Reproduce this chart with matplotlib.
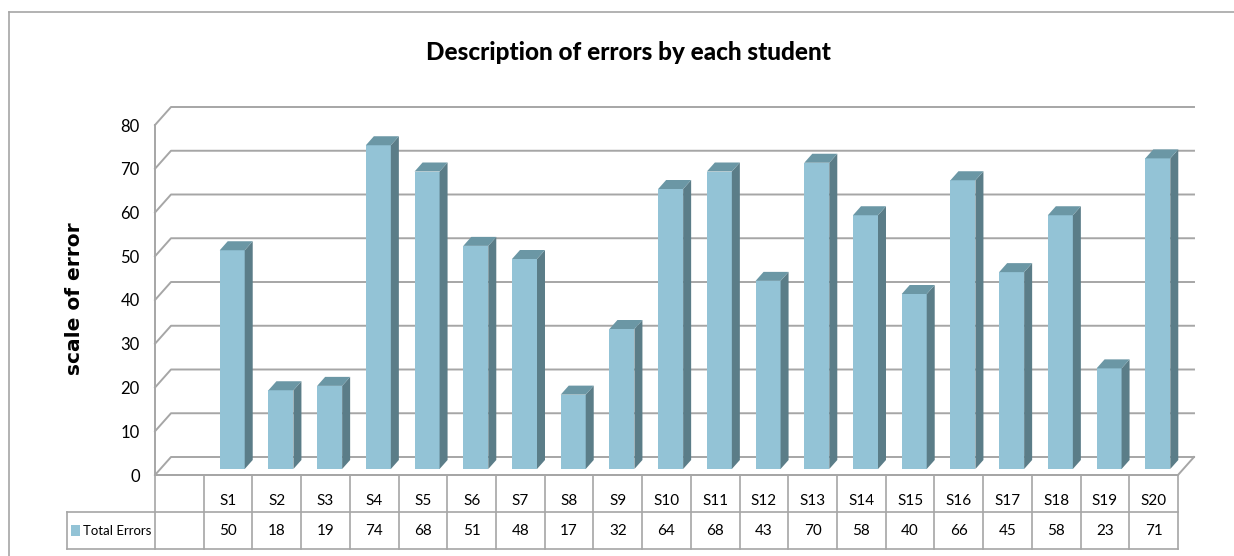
import matplotlib
matplotlib.use("Agg")
import matplotlib.pyplot as plt
from matplotlib.patches import Rectangle, Polygon
from matplotlib.lines import Line2D

students = ["S%d" % i for i in range(1, 21)]
total_errors = [50, 18, 19, 74, 68, 51, 48, 17, 32, 64, 68, 43, 70, 58, 40, 66, 45, 58, 23, 71]
y_ticks = [0, 10, 20, 30, 40, 50, 60, 70, 80]

W, H = 1234, 556
NARROW = ["Lato", "DejaVu Sans"]
FRONT = "#93c3d6"
SIDE = "#5b7d88"
TOP = "#6b97a5"
GRID = "#a6a6a6"


def main():
    fig = plt.figure(figsize=(W / 100, H / 100), dpi=100)
    ax = fig.add_axes([155 / W, (H - 475) / H, 1023 / W, 350 / H])
    ncol = len(students) + 1
    ax.set_xlim(0, ncol)
    ax.set_ylim(0, 80)

    px_x = 1023 / ncol
    px_y = 350 / 80
    dep_x, dep_y = 16 / px_x, 18 / px_y

    # walls / gridlines
    for v in y_ticks:
        ax.plot([0, dep_x, ncol + dep_x], [v, v + dep_y, v + dep_y],
                color=GRID, lw=1.4, clip_on=False, zorder=1)
    ax.plot([0, ncol, ncol + dep_x], [0, 0, dep_y], color=GRID, lw=1.4,
            clip_on=False, zorder=1)

    # 3d bars
    bw = 25 / px_x
    sx, sy = 8 / px_x, 9 / px_y
    base = 6 / px_y
    for i, v in enumerate(total_errors):
        left = i + 1 + 16 / px_x
        top = base + v
        ax.add_patch(Rectangle((left, base), bw, v, facecolor=FRONT,
                               edgecolor="none", zorder=3, clip_on=False))
        ax.add_patch(Polygon([(left + bw, base), (left + bw + sx, base + sy),
                              (left + bw + sx, top + sy), (left + bw, top)],
                             facecolor=SIDE, edgecolor="none", zorder=3, clip_on=False))
        ax.add_patch(Polygon([(left, top), (left + bw, top),
                              (left + bw + sx, top + sy), (left + sx, top + sy)],
                             facecolor=TOP, edgecolor="none", zorder=3, clip_on=False))

    for s in ["top", "right", "bottom"]:
        ax.spines[s].set_visible(False)
    ax.spines["left"].set_color(GRID)
    ax.spines["left"].set_linewidth(1.4)
    ax.set_yticks(y_ticks)
    ax.set_yticklabels([str(t) for t in y_ticks], family=NARROW, fontsize=12)
    ax.tick_params(axis="y", length=0, pad=11)
    ax.set_xticks([])

    # data table below the floor
    tr = ax.get_xaxis_transform()
    r1, r2 = -37 / 350, -74 / 350
    ax.plot([0, ncol], [0, 0], color=GRID, lw=1.2, transform=tr, clip_on=False)
    ax.plot([-88 / px_x, ncol], [r1, r1], color=GRID, lw=1.2, transform=tr, clip_on=False)
    ax.plot([-88 / px_x, ncol], [r2, r2], color=GRID, lw=1.2, transform=tr, clip_on=False)
    ax.plot([-88 / px_x, -88 / px_x], [r1, r2], color=GRID, lw=1.2, transform=tr, clip_on=False)
    for k in range(ncol + 1):
        ax.plot([k, k], [0, r2], color=GRID, lw=1.2, transform=tr, clip_on=False)
    for i, (s, v) in enumerate(zip(students, total_errors)):
        ax.text(i + 1.5, -26 / 350, s, ha="center", va="center", family=NARROW,
                fontsize=11, transform=tr)
        ax.text(i + 1.5, -56 / 350, str(v), ha="center", va="center", family=NARROW,
                fontsize=11, transform=tr)
    ax.add_patch(Rectangle((-84 / px_x, -61 / 350), 9 / px_x, 11 / 350, facecolor=FRONT,
                           edgecolor="none", transform=tr, clip_on=False))
    ax.text(-72 / px_x, -56 / 350, "Total Errors", ha="left", va="center",
            family=NARROW, fontsize=9.5, transform=tr)

    # titles
    fig.text(628 / W, 1 - 53 / H, "Description of errors by each student", ha="center",
             va="center", family=NARROW, fontsize=17.5, fontweight="black")
    fig.text(74 / W, 1 - 299 / H, "scale of error", ha="center", va="center",
             rotation=90, fontsize=14.5, fontweight="bold", family="DejaVu Sans")

    # chart border
    fig.add_artist(Line2D([9 / W, 1], [1 - 12 / H, 1 - 12 / H], color=GRID, lw=1.2))
    fig.add_artist(Line2D([9 / W, 9 / W], [0, 1 - 12 / H], color=GRID, lw=1.2))

    fig.savefig("out.png", dpi=100)


if __name__ == "__main__":
    main()
